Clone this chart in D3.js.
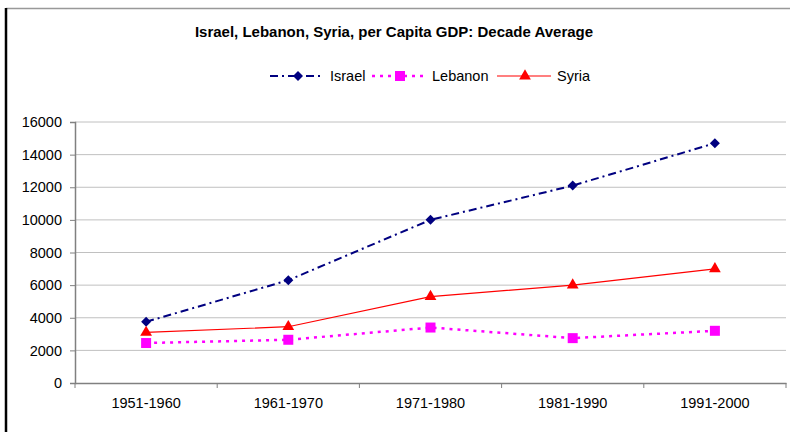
<!DOCTYPE html>
<html>
<head>
<meta charset="utf-8">
<script src="https://cdn.jsdelivr.net/npm/d3@7"></script>
<style>
  body { margin: 0; background: #fff; }
  svg { display: block; font-family: "Liberation Sans", Arial, sans-serif; }
</style>
</head>
<body>
<script>
// Decades on the x axis
const decades = ['1951-1960', '1961-1970', '1971-1980', '1981-1990', '1991-2000'];
// Per capita GDP, decade averages
const israel = [3750, 6300, 10000, 12100, 14700];
const lebanon = [2450, 2650, 3400, 2750, 3200];
const syria = [3100, 3450, 5300, 6000, 7000];
const yTicks = d3.range(0, 16001, 2000);

const width = 790, height = 432;
const plot = { left: 75, right: 786, top: 122, bottom: 383 };

const svg = d3.select('body').append('svg')
    .attr('width', width)
    .attr('height', height);

// frame lines of the chart area
svg.append('line')
    .attr('x1', 6).attr('x2', width).attr('y1', 8.5).attr('y2', 8.5)
    .attr('stroke', '#999').attr('stroke-width', 1.5);
svg.append('line')
    .attr('x1', 6).attr('x2', 6).attr('y1', 8).attr('y2', height)
    .attr('stroke', '#000').attr('stroke-width', 2.5);

const x = d3.scaleBand()
    .domain(decades)
    .range([plot.left, plot.right]);

const y = d3.scaleLinear()
    .domain([0, 16000])
    .range([plot.bottom, plot.top]);

// gridlines
svg.append('g')
    .selectAll('line')
    .data(yTicks.filter(d => d > 0))
    .enter()
    .append('line')
    .attr('x1', plot.left).attr('x2', plot.right)
    .attr('y1', d => y(d)).attr('y2', d => y(d))
    .attr('stroke', '#c0c0c0').attr('stroke-width', 1);

// y axis
const yAxis = svg.append('g')
    .attr('transform', `translate(${plot.left},0)`)
    .call(d3.axisLeft(y).tickValues(yTicks).tickSize(5).tickPadding(8).tickFormat(d3.format('d')));
yAxis.select('.domain').attr('stroke', '#808080').attr('stroke-width', 1.5);
yAxis.selectAll('.tick line').attr('stroke', '#808080');
yAxis.selectAll('text').attr('font-size', 14.5).attr('fill', '#000')
    .attr('font-family', '"Liberation Sans", Arial, sans-serif');

// x axis with ticks between categories
const xAxis = svg.append('g')
    .attr('transform', `translate(0,${plot.bottom})`)
    .call(d3.axisBottom(x).tickSize(0).tickPadding(15));
xAxis.select('.domain').attr('stroke', '#808080').attr('stroke-width', 1.5);
xAxis.selectAll('text').attr('font-size', 14.5).attr('fill', '#000')
    .attr('font-family', '"Liberation Sans", Arial, sans-serif');
xAxis.selectAll('.sep')
    .data(decades.map(d => x(d)).concat([x(decades[decades.length - 1]) + x.bandwidth()]))
    .enter()
    .append('line')
    .attr('class', 'sep')
    .attr('x1', d => d).attr('x2', d => d)
    .attr('y1', 0).attr('y2', 5)
    .attr('stroke', '#808080');

const cx = d => x(d) + x.bandwidth() / 2;

const series = [
    { name: 'Israel', values: israel, color: '#000080', width: 2, dash: '8,4,2,4', symbol: d3.symbolSquare, size: 50, rot: 45 },
    { name: 'Lebanon', values: lebanon, color: '#ff00ff', width: 2.5, dash: '3,5', symbol: d3.symbolSquare, size: 100, rot: 0 },
    { name: 'Syria', values: syria, color: '#ff0000', width: 1.2, dash: null, symbol: d3.symbolTriangle, size: 60, rot: 0 }
];

const line = d3.line()
    .x((d, i) => cx(decades[i]))
    .y(d => y(d));

series.forEach(s => {
    svg.append('path')
        .datum(s.values)
        .attr('fill', 'none')
        .attr('stroke', s.color)
        .attr('stroke-width', s.width)
        .attr('stroke-dasharray', s.dash)
        .attr('d', line);

    svg.selectAll(`.pt-${s.name}`)
        .data(s.values)
        .enter()
        .append('path')
        .attr('class', `pt-${s.name}`)
        .attr('transform', (d, i) => `translate(${cx(decades[i])},${y(d)}) rotate(${s.rot})`)
        .attr('d', d3.symbol().type(s.symbol).size(s.size))
        .attr('fill', s.color);
});

// title
svg.append('text')
    .attr('x', 394)
    .attr('y', 37)
    .attr('text-anchor', 'middle')
    .attr('font-size', 15)
    .attr('font-weight', 'bold')
    .text('Israel, Lebanon, Syria, per Capita GDP: Decade Average');

// legend
const legendPos = [270, 372, 497];
series.forEach((s, i) => {
    const g = svg.append('g').attr('transform', `translate(${legendPos[i]},76)`);
    g.append('line')
        .attr('x1', 0).attr('x2', 54)
        .attr('stroke', s.color)
        .attr('stroke-width', s.width)
        .attr('stroke-dasharray', s.dash);
    g.append('path')
        .attr('transform', `translate(28,0) rotate(${s.rot})`)
        .attr('d', d3.symbol().type(s.symbol).size(s.size))
        .attr('fill', s.color);
    g.append('text')
        .attr('x', 60)
        .attr('y', 5)
        .attr('font-size', 14.5)
        .text(s.name);
});
</script>
</body>
</html>
